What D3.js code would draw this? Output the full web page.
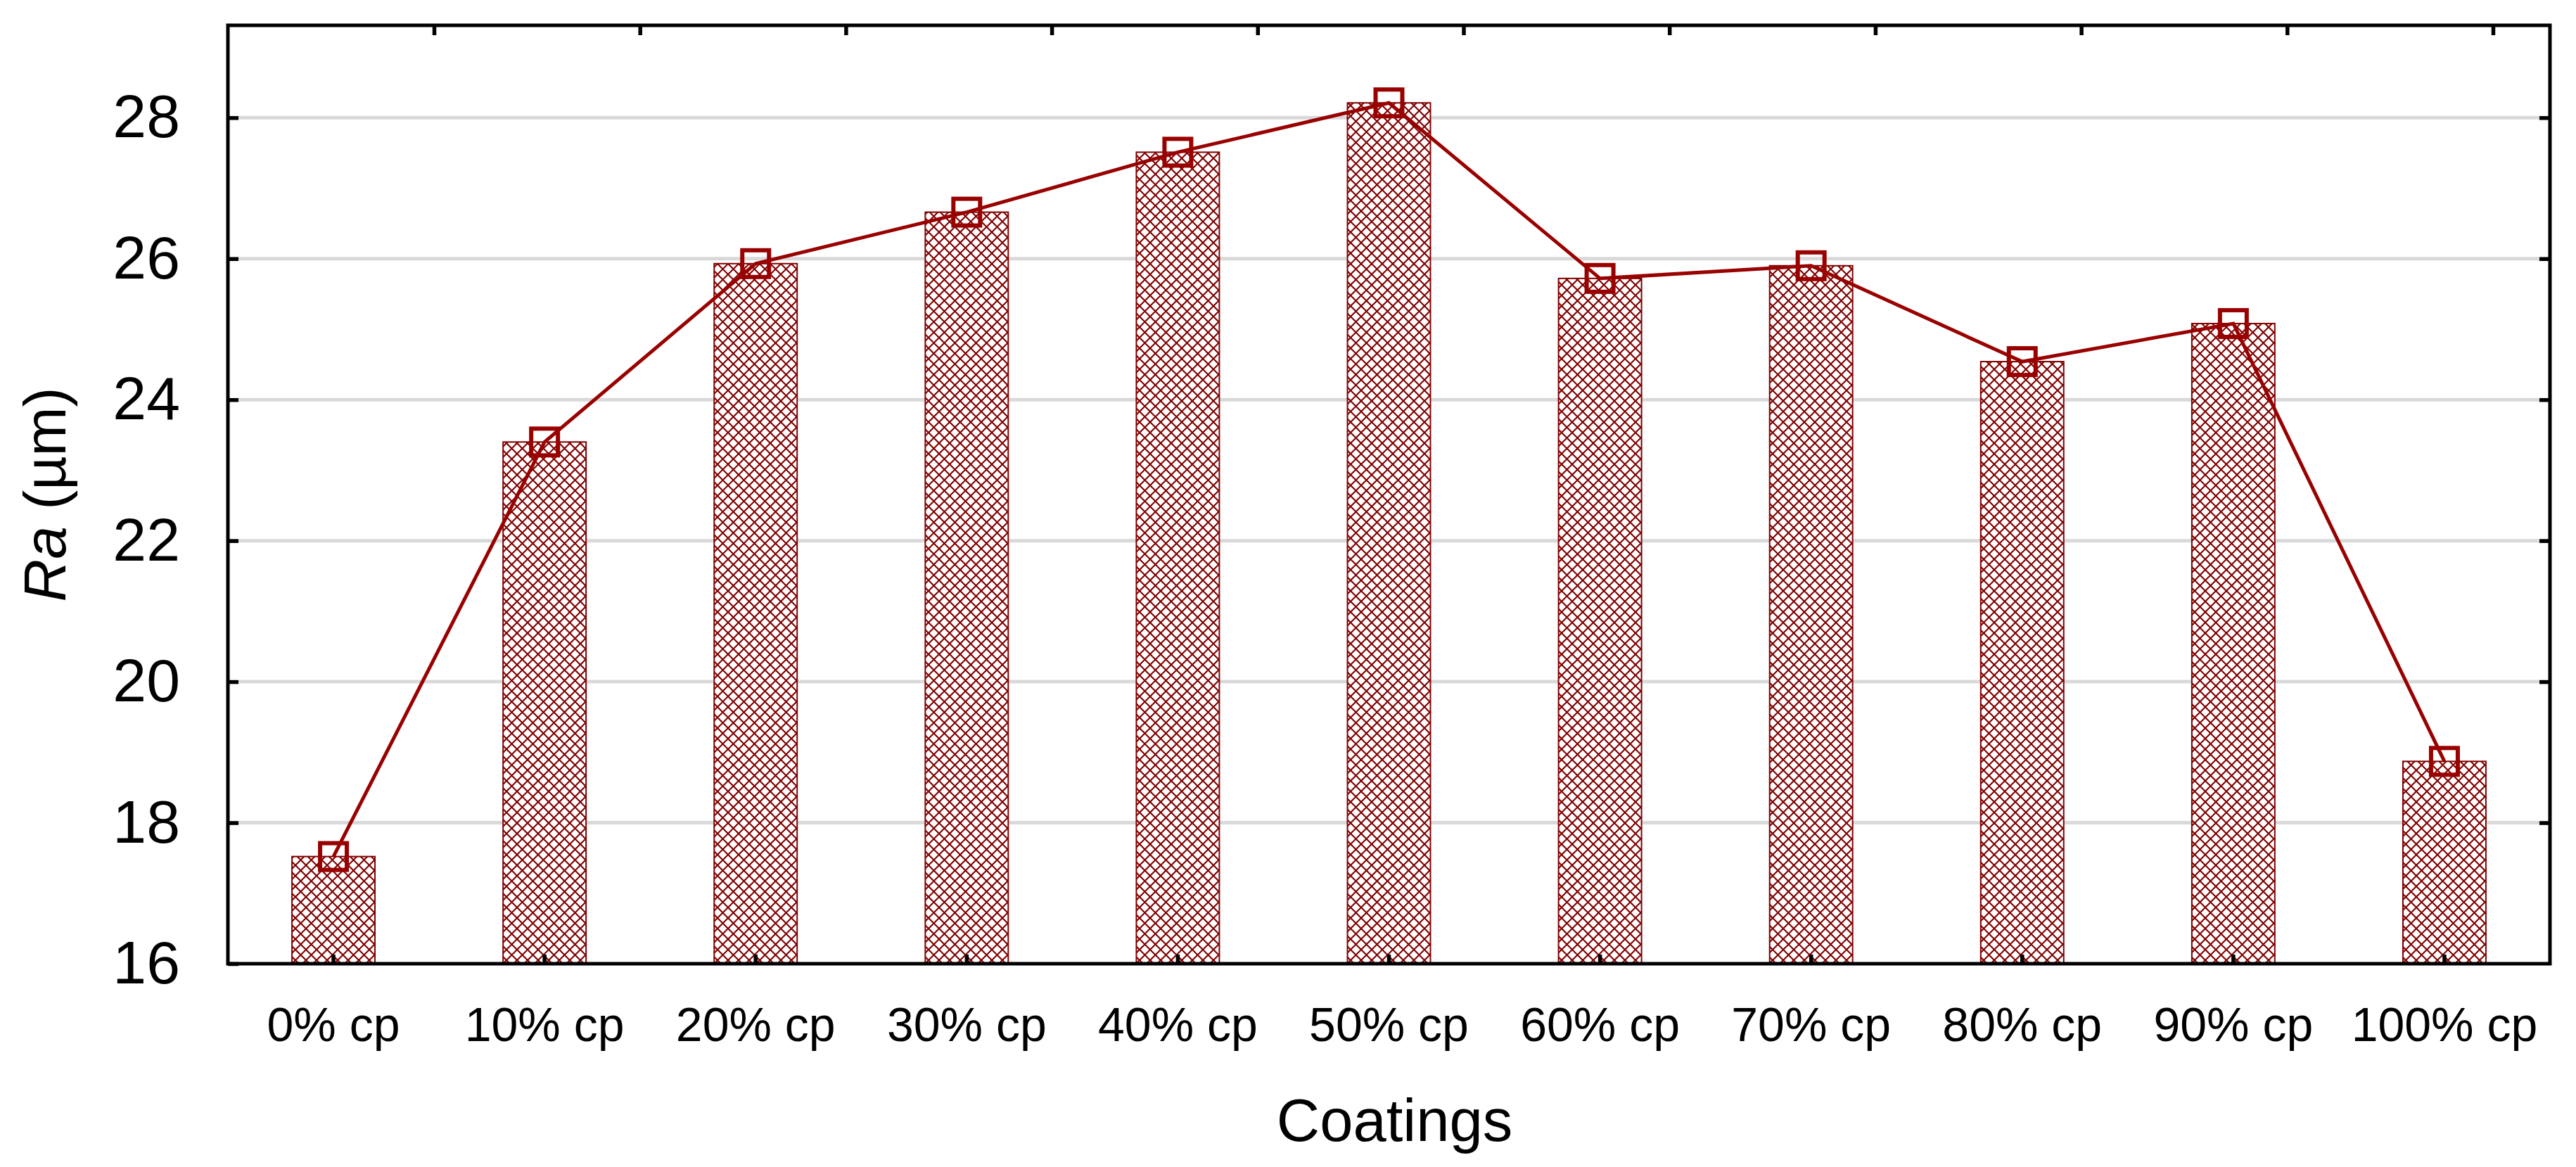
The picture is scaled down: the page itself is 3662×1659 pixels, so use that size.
<!DOCTYPE html>
<html>
<head>
<meta charset="utf-8">
<script src="https://cdn.jsdelivr.net/npm/d3@7"></script>
<style>
  html, body { margin: 0; padding: 0; background: #fff; }
  svg { display: block; font-family: "Liberation Sans", Arial, sans-serif; }
</style>
</head>
<body>
<script>
// ---- data ----
const categories = ["0% cp", "10% cp", "20% cp", "30% cp", "40% cp", "50% cp", "60% cp", "70% cp", "80% cp", "90% cp", "100% cp"];
const raValues = [17.52, 23.40, 25.93, 26.66, 27.51, 28.21, 25.72, 25.90, 24.54, 25.08, 18.87];
const yTicks = [16, 18, 20, 22, 24, 26, 28];
const gridTicks = [18, 20, 22, 24, 26, 28];
const yDomain = [16, 29.31];
const xTitle = "Coatings";

// ---- layout ----
const W = 3662, H = 1659;
const L = 324, R = 3625, T = 36, B = 1370;
const red = "#990000";
const hatchRed = "#800000";

const svg = d3.select("body").append("svg").attr("width", W).attr("height", H);

const defs = svg.append("defs");
const pat = defs.append("pattern").attr("id", "hatch")
  .attr("patternUnits", "userSpaceOnUse").attr("width", 15).attr("height", 15);
pat.append("rect").attr("width", 15).attr("height", 15).attr("fill", "#fff");
pat.append("path").attr("d", "M-1,-1L16,16M16,-1L-1,16")
  .attr("stroke", hatchRed).attr("stroke-width", 2.1).attr("fill", "none");

const x = d3.scaleBand().domain(categories).range([L, R]).paddingInner(0.607).paddingOuter(0.3035);
const xTop = d3.scalePoint().domain(categories).range([L + 293, R - 81]);
const y = d3.scaleLinear().domain(yDomain).range([B, T]);

svg.append("rect").attr("width", W).attr("height", H).attr("fill", "#fff");

// gridlines
svg.append("g").selectAll("line").data(gridTicks).join("line")
  .attr("x1", L).attr("x2", R)
  .attr("y1", d => y(d)).attr("y2", d => y(d))
  .attr("stroke", "#d9d9d9").attr("stroke-width", 5);

// bars
svg.append("g").selectAll("rect").data(raValues).join("rect")
  .attr("x", (d, i) => x(categories[i]))
  .attr("width", x.bandwidth())
  .attr("y", d => y(d))
  .attr("height", d => y(yDomain[0]) - y(d))
  .attr("fill", "url(#hatch)")
  .attr("stroke", hatchRed).attr("stroke-width", 2);

// line
const cx = (d, i) => x(categories[i]) + x.bandwidth() / 2;
svg.append("path").datum(raValues)
  .attr("d", d3.line().x(cx).y(d => y(d)))
  .attr("fill", "none").attr("stroke", red).attr("stroke-width", 5);

// markers
const ms = 38;
svg.append("g").selectAll("rect").data(raValues).join("rect")
  .attr("x", (d, i) => cx(d, i) - ms / 2)
  .attr("y", d => y(d) - ms / 2)
  .attr("width", ms).attr("height", ms)
  .attr("fill", "none").attr("stroke", red).attr("stroke-width", 6);

// frame
svg.append("rect").attr("x", L).attr("y", T).attr("width", R - L).attr("height", B - T)
  .attr("fill", "none").attr("stroke", "#000").attr("stroke-width", 5);

function styleAxis(g) {
  g.select(".domain").remove();
  g.selectAll(".tick line").attr("stroke", "#000").attr("stroke-width", 5.5);
  g.selectAll(".tick text").attr("fill", "#000").attr("font-family", "'Liberation Sans', Arial, sans-serif");
}

// left axis
svg.append("g").attr("transform", `translate(${L},0)`)
  .call(d3.axisLeft(y).tickValues(yTicks).tickSize(-15).tickPadding(68).tickFormat(d3.format("d")))
  .call(styleAxis)
  .call(g => g.selectAll(".tick text").attr("font-size", 86));

// right axis
svg.append("g").attr("transform", `translate(${R},0)`)
  .call(d3.axisRight(y).tickValues(gridTicks).tickSize(-15).tickFormat(""))
  .call(styleAxis);

// bottom axis
svg.append("g").attr("transform", `translate(0,${B})`)
  .call(d3.axisBottom(x).tickSize(-13).tickPadding(62))
  .call(styleAxis)
  .call(g => g.selectAll(".tick text").attr("font-size", 68));

// top axis
svg.append("g").attr("transform", `translate(0,${T})`)
  .call(d3.axisTop(xTop).tickSize(-14).tickFormat(""))
  .call(styleAxis);

// titles
svg.append("text").attr("x", (L + R) / 2 + 8).attr("y", 1622)
  .attr("text-anchor", "middle").attr("font-size", 85).attr("fill", "#000")
  .text(xTitle);

const yt = svg.append("text")
  .attr("transform", `translate(93,${(T + B) / 2}) rotate(-90)`)
  .attr("text-anchor", "middle").attr("font-size", 84).attr("fill", "#000");
yt.append("tspan").attr("font-style", "italic").text("Ra");
yt.append("tspan").text(" (µm)");
</script>
</body>
</html>
